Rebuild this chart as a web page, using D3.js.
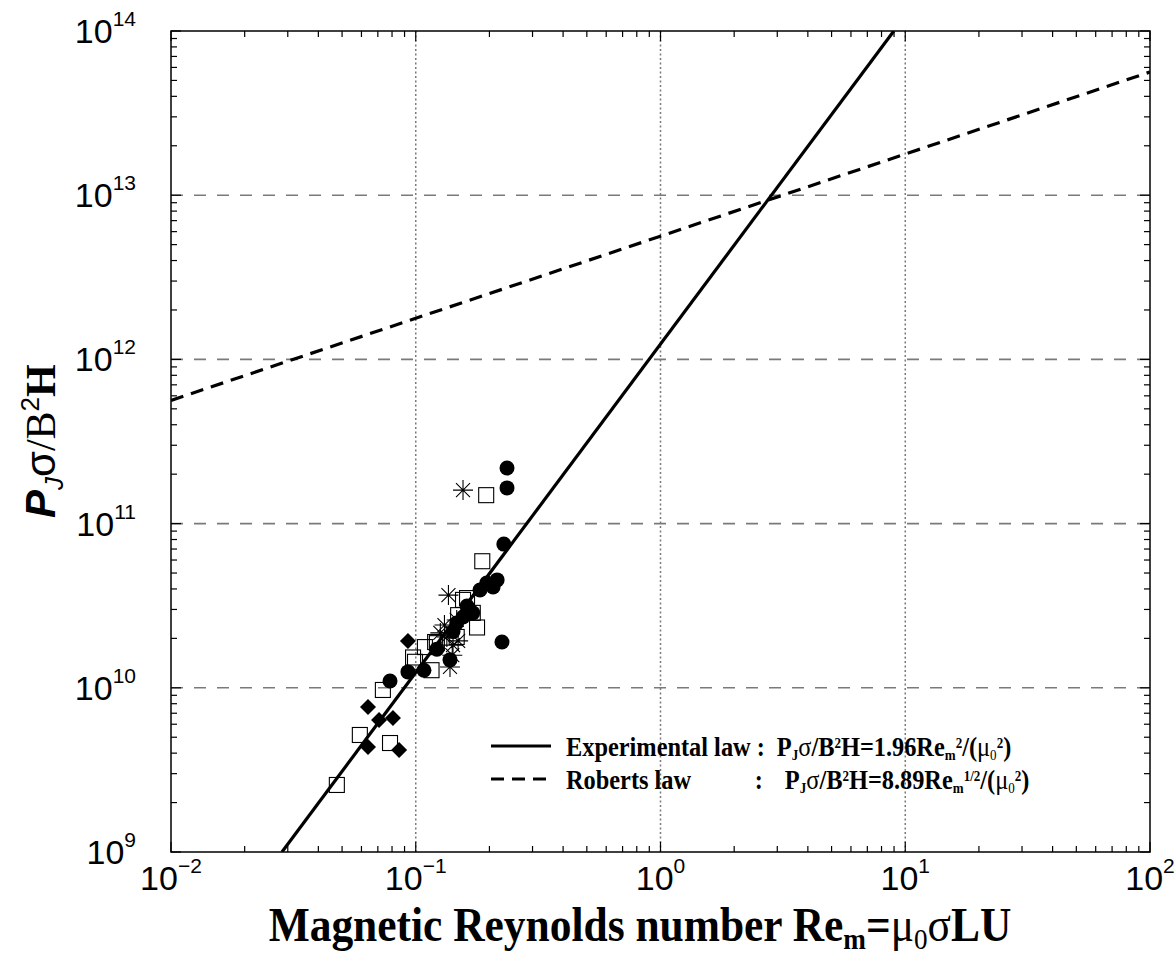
<!DOCTYPE html>
<html><head><meta charset="utf-8">
<script src="https://cdn.jsdelivr.net/npm/d3@7"></script>
<style>body{margin:0;background:#fff}</style>
</head><body>
<svg id="c" width="1176" height="955" xmlns="http://www.w3.org/2000/svg"></svg>
<script>
// ---------- data ----------
const xTickValues = [1e-2, 1e-1, 1e0, 1e1, 1e2];
const xTickExp    = ["\u22122", "\u22121", "0", "1", "2"];
const yTickValues = [1e9, 1e10, 1e11, 1e12, 1e13, 1e14];
const yTickExp    = ["9", "10", "11", "12", "13", "14"];

// filled circles
const circleX = [0.236, 0.236, 0.229, 0.215, 0.207, 0.195, 0.183, 0.171, 0.162, 0.156, 0.147, 0.142, 0.225, 0.138, 0.122, 0.108, 0.0929, 0.0785];
const circleY = [2.18e11, 1.65e11, 7.5e10, 4.54e10, 4.11e10, 4.35e10, 3.94e10, 2.86e10, 3.15e10, 2.70e10, 2.48e10, 2.2e10, 1.90e10, 1.48e10, 1.72e10, 1.28e10, 1.25e10, 1.10e10];
// open squares
const squareX = [0.194, 0.187, 0.162, 0.156, 0.178, 0.171, 0.149, 0.147, 0.120, 0.122, 0.109, 0.0975, 0.0993, 0.116, 0.0734, 0.0591, 0.0785, 0.0476];
const squareY = [1.49e11, 5.9e10, 3.52e10, 3.43e10, 2.33e10, 2.86e10, 2.77e10, 2.04e10, 1.90e10, 1.87e10, 1.77e10, 1.53e10, 1.44e10, 1.28e10, 9.7e9, 5.16e9, 4.61e9, 2.56e9];
// filled diamonds
const diamondX = [0.0929, 0.0638, 0.0708, 0.0807, 0.0638, 0.0855];
const diamondY = [1.93e10, 7.64e9, 6.37e9, 6.55e9, 4.36e9, 4.18e9];
// asterisks
const starX = [0.156, 0.136, 0.131, 0.134, 0.142, 0.141, 0.149, 0.138, 0.147, 0.126];
const starY = [1.60e11, 3.67e10, 2.41e10, 2.04e10, 1.82e10, 1.58e10, 1.93e10, 1.34e10, 2.59e10, 2.16e10];

// laws (end points)
const experimentalLaw = [{x: 0.0284, y: 1e9}, {x: 8.98, y: 1e14}];
const robertsLaw      = [{x: 0.01, y: 5.63e11}, {x: 100, y: 5.63e13}];

// ---------- layout ----------
const L = 171, R = 1150, T = 31, B = 852;
const svg = d3.select("#c");
const x = d3.scaleLog().domain([1e-2, 1e2]).range([L, R]);
const y = d3.scaleLog().domain([1e9, 1e14]).range([B, T]);
const SANS = "'Liberation Sans', Arial, sans-serif";
const SERIF = "'Liberation Serif', 'Times New Roman', serif";
const SX = 0.87; // horizontal condensing of the legend texts

svg.append("defs").append("clipPath").attr("id", "clip")
  .append("rect").attr("x", L).attr("y", T).attr("width", R - L).attr("height", B - T);

// grid
const grid = svg.append("g");
grid.selectAll("line.h").data(yTickValues.slice(1, -1)).enter().append("line")
  .attr("x1", L).attr("x2", R).attr("y1", d => y(d)).attr("y2", d => y(d))
  .attr("stroke", "#7a7a7a").attr("stroke-width", 1.6).attr("stroke-dasharray", "12,11");
grid.selectAll("line.v").data(xTickValues.slice(1, -1)).enter().append("line")
  .attr("y1", T).attr("y2", B).attr("x1", d => x(d)).attr("x2", d => x(d))
  .attr("stroke", "#7a7a7a").attr("stroke-width", 1.5).attr("stroke-dasharray", "2,2.5");

// ticks
const xMinor = [], yMinor = [];
for (let e = -2; e < 2; e++) for (let m = 2; m <= 9; m++) xMinor.push(m * Math.pow(10, e));
for (let e = 9; e < 14; e++) for (let m = 2; m <= 9; m++) yMinor.push(m * Math.pow(10, e));
const tk = svg.append("g").attr("stroke", "#000").attr("stroke-width", 1.2);
function xt(vals, len) {
  vals.forEach(v => {
    tk.append("line").attr("x1", x(v)).attr("x2", x(v)).attr("y1", B).attr("y2", B - len);
    tk.append("line").attr("x1", x(v)).attr("x2", x(v)).attr("y1", T).attr("y2", T + len);
  });
}
function yt(vals, len) {
  vals.forEach(v => {
    tk.append("line").attr("y1", y(v)).attr("y2", y(v)).attr("x1", L).attr("x2", L + len);
    tk.append("line").attr("y1", y(v)).attr("y2", y(v)).attr("x1", R).attr("x2", R - len);
  });
}
xt(xMinor, 6); yt(yMinor, 6); xt(xTickValues, 10); yt(yTickValues, 10);

// markers
const pts = svg.append("g").attr("clip-path", "url(#clip)");
diamondX.forEach((d, i) => {
  pts.append("path").attr("d", "M0,-8L8,0L0,8L-8,0Z")
    .attr("transform", `translate(${x(d)},${y(diamondY[i])})`).attr("fill", "#000");
});
squareX.forEach((d, i) => {
  pts.append("rect").attr("x", x(d) - 7.5).attr("y", y(squareY[i]) - 7.5)
    .attr("width", 15).attr("height", 15).attr("fill", "none").attr("stroke", "#000").attr("stroke-width", 1.1);
});
circleX.forEach((d, i) => {
  pts.append("circle").attr("cx", x(d)).attr("cy", y(circleY[i])).attr("r", 7.5).attr("fill", "#000");
});
const starPath = "M-10,0L10,0M0,-10L0,10M-7,-7L7,7M-7,7L7,-7";
starX.forEach((d, i) => {
  pts.append("path").attr("d", starPath)
    .attr("transform", `translate(${x(d)},${y(starY[i])})`).attr("stroke", "#000").attr("stroke-width", 1.1).attr("fill", "none");
});

// law lines
const line = d3.line().x(d => x(d.x)).y(d => y(d.y));
const lines = svg.append("g").attr("clip-path", "url(#clip)");
lines.append("path").datum(experimentalLaw).attr("d", line)
  .attr("fill", "none").attr("stroke", "#000").attr("stroke-width", 3.2);
lines.append("path").datum(robertsLaw).attr("d", line)
  .attr("fill", "none").attr("stroke", "#000").attr("stroke-width", 3.2).attr("stroke-dasharray", "13,8");

// frame
svg.append("rect").attr("x", L).attr("y", T).attr("width", R - L).attr("height", B - T)
  .attr("fill", "none").attr("stroke", "#000").attr("stroke-width", 1.5);

// tick labels
xTickValues.forEach((v, i) => {
  const t = svg.append("text").attr("x", x(v)).attr("y", 890).attr("text-anchor", "middle")
    .attr("font-family", SANS).attr("font-size", 34);
  t.append("tspan").text("10");
  t.append("tspan").text(xTickExp[i]).attr("font-size", 21).attr("dy", -17);
});
yTickValues.forEach((v, i) => {
  const t = svg.append("text").attr("x", 136).attr("y", y(v) + 12).attr("text-anchor", "end")
    .attr("font-family", SANS).attr("font-size", 34);
  t.append("tspan").text("10");
  t.append("tspan").text(yTickExp[i]).attr("font-size", 21).attr("dy", -17);
});

function rich(t, segs) {
  segs.forEach(s => {
    const sp = t.append("tspan").text(s.t);
    if (s.fs) sp.attr("font-size", s.fs);
    if (s.dy) sp.attr("dy", s.dy);
    if (s.ff) sp.attr("font-family", s.ff);
    if (s.w) sp.attr("font-weight", s.w);
    if (s.st) sp.attr("font-style", s.st);
  });
  return t;
}
// condensed text placed at (px, py)
function ctext(parent, px, py, sx) {
  return parent.append("text").attr("transform", `translate(${px},${py}) scale(${sx || SX},1)`);
}

// x title
rich(ctext(svg, 640, 941, 0.905).attr("text-anchor", "middle")
  .attr("font-family", SERIF).attr("font-weight", "bold").attr("font-size", 48), [
  {t: "Magnetic Reynolds number Re"},
  {t: "m", fs: 30, dy: 8},
  {t: "=", dy: -8},
  {t: "\u03bc", w: "normal"},
  {t: "0", fs: 30, dy: 8, w: "normal"},
  {t: "\u03c3", dy: -8, w: "normal"},
  {t: "LU"}
]);

// y title
rich(svg.append("text").attr("transform", "translate(55,518) rotate(-90)")
  .attr("font-size", 42), [
  {t: "P", ff: SANS, w: "bold", st: "italic"},
  {t: "J", ff: SANS, st: "italic", fs: 26, dy: 8},
  {t: "\u03c3", ff: SANS, dy: -8},
  {t: "/B", ff: SERIF},
  {t: "2", ff: SANS, fs: 26, dy: -16},
  {t: "H", ff: SERIF, w: "bold", dy: 16}
]);

// legend
const lg = svg.append("g").attr("font-family", SERIF).attr("font-weight", "bold").attr("font-size", 28);
const lx = 566, r1 = 756, r2 = 789;
lg.append("line").attr("x1", 491).attr("x2", 551).attr("y1", r1 - 10).attr("y2", r1 - 10)
  .attr("stroke", "#000").attr("stroke-width", 3.2);
lg.append("line").attr("x1", 491).attr("x2", 551).attr("y1", r2 - 10).attr("y2", r2 - 10)
  .attr("stroke", "#000").attr("stroke-width", 3.2).attr("stroke-dasharray", "13,8");
const t1 = ctext(lg, lx, r1).text("Experimental law :");
const w1 = t1.node().getComputedTextLength() * SX;
const tmp = ctext(lg, lx, r1).text("Experimental law ");
const wc = tmp.node().getComputedTextLength() * SX; tmp.remove();
ctext(lg, lx, r2).text("Roberts law");
ctext(lg, lx + wc + 4, r2).text(":");
const fx1 = lx + w1 + 12, fx2 = fx1 + 8;
function formula(xp, yp, coef, exp) {
  rich(ctext(lg, xp, yp), [
    {t: "P"}, {t: "J", fs: 15, dy: 4}, {t: "\u03c3", dy: -4, w: "normal"}, {t: "/B"},
    {t: "2", fs: 15, dy: -8}, {t: "H=" + coef, dy: 8}, {t: "Re"}, {t: "m", fs: 15, dy: 4},
    {t: exp, fs: 15, dy: -12}, {t: "/(", dy: 8}, {t: "\u03bc", w: "normal"}, {t: "0", fs: 15, dy: 4, w: "normal"},
    {t: "2", fs: 15, dy: -12}, {t: ")", dy: 8}
  ]);
}
formula(fx1, r1, "1.96", "2");
formula(fx2, r2, "8.89", "1/2");
</script>
</body></html>
